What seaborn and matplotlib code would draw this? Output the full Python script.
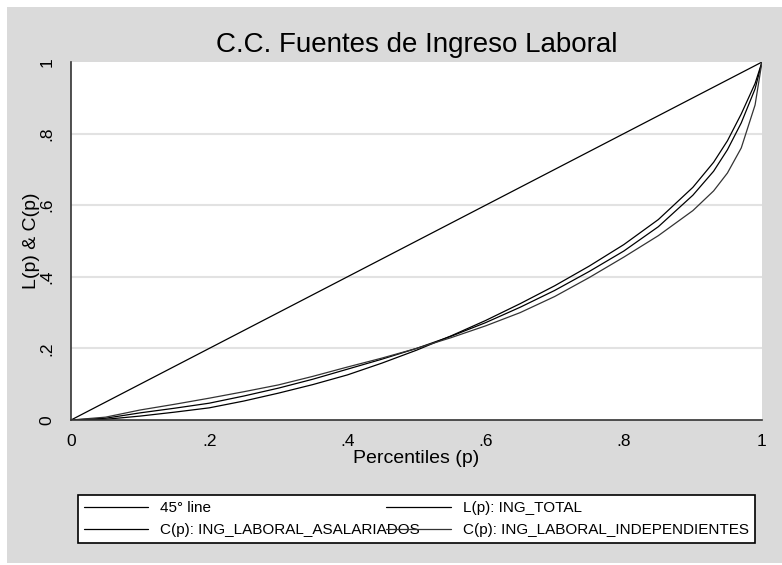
import pandas as pd
import matplotlib.pyplot as plt
import seaborn as sns
from matplotlib.patches import Rectangle

# Percentiles
p = [0, 0.05, 0.1, 0.15, 0.2, 0.25, 0.3, 0.35, 0.4, 0.45, 0.5, 0.55, 0.6, 0.65, 0.7, 0.75,
     0.8, 0.85, 0.9, 0.93, 0.95, 0.97, 0.99, 1]

# Curvas de concentracion / Lorenz
total = [0, 0.005, 0.020, 0.033, 0.047, 0.067, 0.089, 0.114, 0.142, 0.170, 0.200, 0.234, 0.272,
         0.315, 0.362, 0.415, 0.472, 0.540, 0.628, 0.695, 0.755, 0.830, 0.925, 1]
asalariados = [0, 0.002, 0.011, 0.022, 0.034, 0.053, 0.075, 0.099, 0.126, 0.159, 0.195, 0.235,
               0.278, 0.325, 0.375, 0.430, 0.490, 0.560, 0.650, 0.720, 0.780, 0.855, 0.940, 1]
independientes = [0, 0.008, 0.028, 0.044, 0.061, 0.079, 0.098, 0.122, 0.148, 0.173, 0.200, 0.230,
                  0.263, 0.300, 0.345, 0.398, 0.455, 0.515, 0.585, 0.640, 0.690, 0.760, 0.880, 1]

diag = [0, 1]
ticks = [0, 0.2, 0.4, 0.6, 0.8, 1]
tick_labels = ["0", ".2", ".4", ".6", ".8", "1"]

sns.set_style("white")
plt.rcParams["font.family"] = ["Liberation Sans", "DejaVu Sans"]
plt.rcParams["text.color"] = "black"
plt.rcParams["axes.labelcolor"] = "black"
plt.rcParams["xtick.color"] = "black"
plt.rcParams["ytick.color"] = "black"

fig = plt.figure(figsize=(7.82, 5.65), dpi=100, facecolor="white")
fig.patches.append(Rectangle((0.009, 0.0035), 0.991, 0.984, transform=fig.transFigure,
                             facecolor="#dadada", edgecolor="none", zorder=-10))
ax = fig.add_axes([0.0908, 0.2566, 0.8836, 0.6336])
ax.set_facecolor("white")

sns.lineplot(x=diag, y=diag, color="black", lw=0.9, label="45° line", ax=ax)
sns.lineplot(x=p, y=asalariados, color="black", lw=0.9, label="C(p): ING_LABORAL_ASALARIADOS", ax=ax)
sns.lineplot(x=p, y=total, color="black", lw=0.9, label="L(p): ING_TOTAL", ax=ax)
sns.lineplot(x=p, y=independientes, color="#333333", lw=0.9,
             label="C(p): ING_LABORAL_INDEPENDIENTES", ax=ax)

ax.set_xlim(0, 1)
ax.set_ylim(0, 1)
for v in ticks[1:-1]:
    ax.axhline(v, color="#e2e2e2", lw=1.5, zorder=0)

ax.set_xticks(ticks)
ax.set_xticklabels(tick_labels, fontsize=12.5)
ax.set_yticks(ticks)
ax.set_yticklabels(tick_labels, fontsize=12.5, rotation=90, va="center")
ax.tick_params(axis="both", direction="out", length=6, width=1, color="#333333")
ax.tick_params(axis="y", pad=6)
ax.tick_params(axis="x", pad=4)

for s in ["top", "right"]:
    ax.spines[s].set_visible(False)
for s in ["left", "bottom"]:
    ax.spines[s].set_color("#333333")
    ax.spines[s].set_linewidth(1.2)

ax.set_xlabel("Percentiles (p)", fontsize=14, labelpad=1)
ax.set_ylabel("L(p) & C(p)", fontsize=14)
ax.yaxis.set_label_coords(-0.045, 0.5)
ax.set_title("C.C. Fuentes de Ingreso Laboral", fontsize=20, pad=7)

handles, labels = ax.get_legend_handles_labels()
ax.get_legend().remove()
leg = fig.legend(handles, labels, ncol=2, loc="lower left", mode="expand",
                 bbox_to_anchor=(0.0997, 0.0389, 0.8657, 0.115),
                 fontsize=11, handlelength=4.2, frameon=True, fancybox=False,
                 edgecolor="black", facecolor="white", borderaxespad=0)
leg.get_frame().set_linewidth(1.2)
leg.get_frame().set_alpha(1)

fig.savefig("out.png", dpi=100, facecolor=fig.get_facecolor())
